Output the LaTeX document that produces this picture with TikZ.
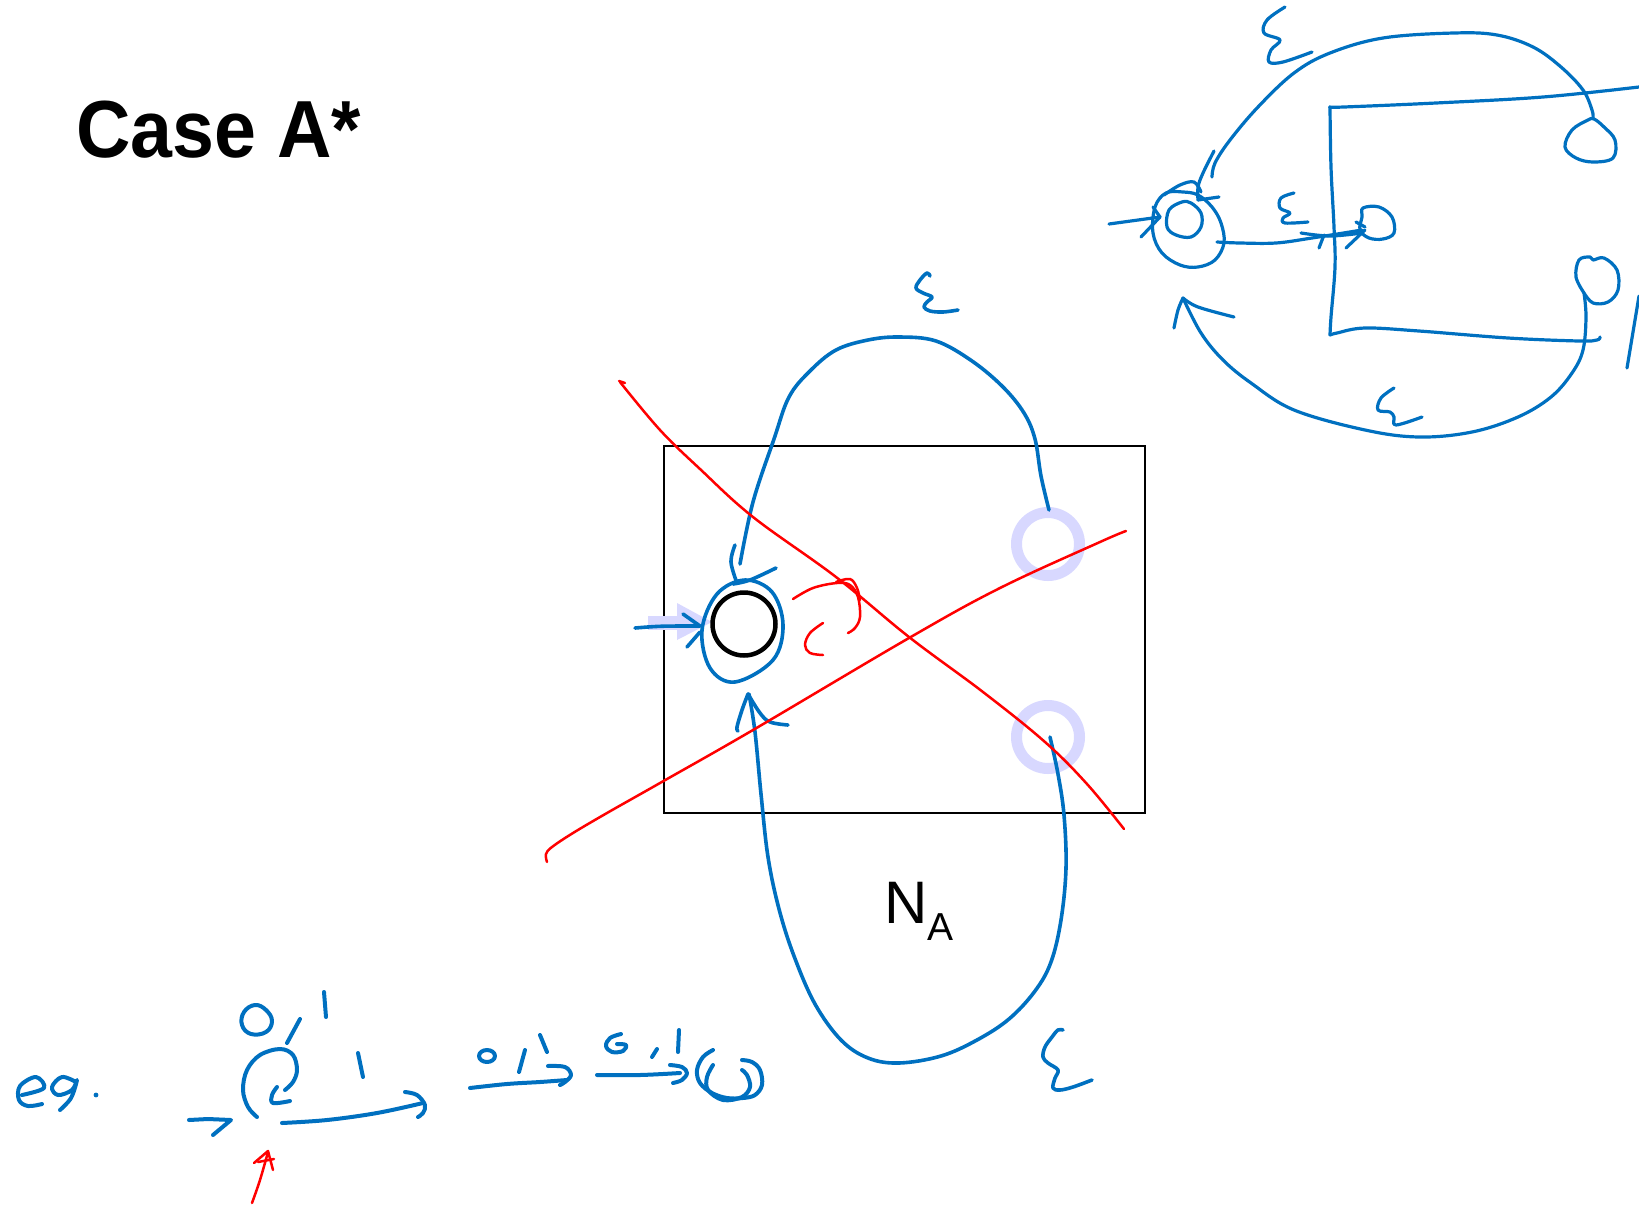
\documentclass[tikz,border=0pt]{standalone}
\usepackage{fontspec}
\setmainfont{Liberation Sans}
\definecolor{ink}{RGB}{0,112,192}
\definecolor{redink}{RGB}{255,0,0}
\definecolor{lav}{RGB}{216,216,255}
\begin{document}
\begin{tikzpicture}[x=1pt,y=-1pt,
  pen/.style={draw=ink, line width=3.6pt, line cap=round, line join=round},
  thinpen/.style={draw=ink, line width=3.2pt, line cap=round, line join=round},
  thickpen/.style={draw=ink, line width=4pt, line cap=round, line join=round},
  redpen/.style={draw=redink, line width=2.5pt, line cap=round, line join=round},
  ring/.style={circle, draw=lav, line width=11pt, minimum size=63pt, inner sep=0pt},
  sm/.style={smooth, tension=0.6}]
\useasboundingbox (0,0) rectangle (1639,1205);

% title
\node[anchor=base west, inner sep=0pt, font=\fontsize{81}{90}\selectfont\bfseries] (title) at (76,157) {\scalebox{0.93}[1]{Case A*}};

% box N_A
\node[draw=black, line width=2.5pt, minimum width=481pt, minimum height=367pt, inner sep=0pt] (box) at (904.5,629.5) {};
\node[anchor=base west, inner sep=0pt, font=\fontsize{60}{70}\selectfont] (nlabel) at (884,923) {N};
\node[anchor=base west, inner sep=0pt, font=\fontsize{39}{45}\selectfont] (alabel) at (nlabel.base east) [yshift=-17pt] {A};

% lavender rings and arrow
\node[ring] (f1) at (1048,544) {};
\node[ring] (f2) at (1048,737) {};
\fill[lav] (648,616) rectangle (678,630);
\fill[lav] (677,603) -- (712,622) -- (677,640) -- cycle;

% start state
\node[circle, draw=black, line width=4.5pt, minimum size=63pt, inner sep=0pt] (s0) at (744,624) {};

% blue ellipse around start
\draw[pen] plot[smooth cycle, tension=0.6] coordinates {(745,580) (772,592) (783,625) (773,660) (735,682) (710,668) (702,630) (717,594)};
% blue entry arrow
\draw[pen] (635,628) .. controls (660,626) .. (700,626);
\draw[pen] (683,614) -- (700,626);
\draw[pen] (687,647) -- (700,632);

% top epsilon loop
\draw[pen] plot[sm] coordinates {(740,564) (753,502) (774,439) (789,397) (810,371) (836,350) (868,340) (899,337) (936,341) (972,361) (1003,387) (1024,413) (1035,439) (1041,476) (1049,510)};
\draw[pen] plot[sm] coordinates {(735,545) (731,562) (737,583)};
\draw[pen] plot[sm] coordinates {(733,584) (750,580) (776,568)};
% bottom epsilon loop
\draw[pen] plot[sm] coordinates {(1050,737) (1058,774) (1064,815) (1066,868) (1061,920) (1051,962) (1035,991) (1009,1019) (977,1040) (941,1056) (899,1063) (868,1058) (841,1040) (815,1004) (794,956) (779,909) (768,857) (761,794) (755,732) (749,694)};
\draw[pen] plot[sm] coordinates {(748,694) (742,710) (737,727) (738,731)};
\draw[pen] plot[sm] coordinates {(748,694) (760,713) (770,722) (788,725)};
% epsilon labels
\draw[pen] plot[sm] coordinates {(930,276) (927,273) (920,280) (916,288) (923,293) (932,297) (927,302) (924,307) (930,311) (943,312) (958,310)};
\draw[pen] plot[sm] coordinates {(1063,1030) (1058,1030) (1052,1037) (1045,1047) (1043,1057) (1048,1063) (1058,1070) (1055,1078) (1053,1088) (1060,1090) (1073,1087) (1092,1080)};

% red strokes
\draw[redpen] (625,383) -- (619,381);
\draw[redpen] plot[sm] coordinates {(620,382) (660,430) (700,469) (753,517) (836,577) (909,637) (983,692) (1045,742) (1087,784) (1124,829)};
\draw[redpen] plot[sm] coordinates {(547,862) (546,854) (552,847) (573,833) (607,813) (660,783) (753,730) (909,638) (1000,588) (1100,542) (1126,531)};
\draw[redpen] plot[sm] coordinates {(793,599) (813,588) (837,583) (850,585) (858,597) (860,617) (855,628) (848,633)};
\draw[redpen] plot[sm] coordinates {(836,582) (850,579) (857,588) (860,600)};
\draw[redpen] plot[sm] coordinates {(823,623) (810,633) (805,645) (810,653) (823,655)};

% ===== top-right sketch =====
\draw[thinpen] plot[sm] coordinates {(1212,177) (1215,163) (1230,140) (1258,107) (1294,73) (1330,53) (1383,38) (1454,33) (1497,35) (1533,47) (1561,67) (1583,90) (1592,110) (1593,118)};
\draw[thinpen] plot[sm] coordinates {(1214,151) (1203,173) (1198,187) (1198,200)};
\draw[thinpen] (1198,200) -- (1219,197);
\draw[thinpen] plot[smooth cycle, tension=0.6] coordinates {(1588,120) (1572,130) (1565,147) (1576,158) (1593,162) (1613,158) (1615,140) (1604,127) (1594,119)};
\draw[thinpen] plot[sm] coordinates {(1584,293) (1576,277) (1579,260) (1590,257) (1593,260) (1604,258) (1617,270) (1618,290) (1608,302) (1593,303) (1584,293)};
\draw[thinpen] plot[sm] coordinates {(1584,293) (1586,317) (1583,350) (1572,373) (1551,397) (1518,417) (1472,432) (1419,437) (1365,430) (1294,410) (1251,383) (1223,360) (1201,333) (1183,298)};
\draw[thinpen] plot[sm] coordinates {(1174,328) (1178,310) (1183,298)};
\draw[thinpen] plot[sm] coordinates {(1183,298) (1198,307) (1234,317)};
% rectangle
\draw[thinpen] plot[sm] coordinates {(1330,107) (1344,107) (1436,103) (1543,97) (1639,87)};
\draw[thinpen] plot[sm] coordinates {(1330,107) (1331,167) (1334,227) (1335,267) (1331,317) (1330,335)};
\draw[thinpen] plot[sm] coordinates {(1330,335) (1337,333) (1365,328) (1419,331) (1508,338) (1579,341) (1597,340) (1600,337)};
% start state
\draw[thinpen] plot[smooth cycle, tension=0.6] coordinates {(1182,202) (1169,210) (1167,227) (1176,235) (1191,237) (1201,227) (1201,213) (1191,203)};
\draw[thinpen] plot[sm] coordinates {(1164,195) (1180,185) (1194,182) (1201,192)};
\draw[thinpen] plot[smooth cycle, tension=0.6] coordinates {(1166,193) (1155,207) (1153,233) (1162,253) (1180,265) (1198,267) (1215,260) (1224,243) (1221,223) (1212,207) (1198,195) (1183,192)};
\draw[thinpen] (1109,224) -- (1160,217);
\draw[thinpen] (1153,207) -- (1160,217);
\draw[thinpen] (1141,237) -- (1160,217);
% epsilon transition
\draw[thinpen] plot[sm] coordinates {(1217,242) (1240,243) (1276,243) (1312,238) (1362,230)};
\draw[thinpen] plot[sm] coordinates {(1301,233) (1330,236) (1362,233)};
\draw[thinpen] (1319,248) -- (1324,235);
\draw[thinpen] (1346,248) -- (1365,230);
\draw[thinpen] (1356,222) -- (1365,227);
\draw[thinpen] plot[smooth cycle, tension=0.6] coordinates {(1363,208) (1379,207) (1392,217) (1394,233) (1383,239) (1369,238) (1360,230) (1362,217)};
% epsilon labels
\draw[thinpen] plot[sm] coordinates {(1285,7) (1267,20) (1264,33) (1280,40) (1271,50) (1269,62) (1283,62) (1312,52)};
\draw[thinpen] plot[sm] coordinates {(1294,193) (1281,198) (1280,208) (1290,213) (1283,218) (1285,223) (1308,222)};
\draw[thinpen] plot[sm] coordinates {(1394,388) (1381,398) (1378,410) (1390,412) (1394,417) (1396,425) (1422,417)};
\draw[thinpen] (1639,296) -- (1627,368);

% ===== bottom-left example =====
\draw[thickpen] plot[sm] coordinates {(22,1095) (44,1088) (36,1077) (20,1086) (19,1100) (28,1106) (42,1104)};
\draw[thickpen] plot[sm] coordinates {(76,1082) (62,1077) (52,1087) (58,1095) (72,1090) (77,1080) (71,1098) (60,1110)};
\fill[ink] (96,1095) circle (2.4pt);
\draw[thickpen] (189,1120) -- (208,1119) -- (231,1120) -- (213,1135);
\draw[thickpen] plot[sm] coordinates {(257,1117) (248,1107) (243,1090) (247,1070) (260,1055) (280,1049) (293,1055) (297,1070) (293,1082) (285,1090)};
\draw[thickpen] plot[sm] coordinates {(277,1087) (272,1095) (273,1103) (290,1101)};
\draw[thickpen] plot[smooth cycle, tension=0.7] coordinates {(266,1010) (255,1005) (244,1012) (242,1025) (251,1034) (266,1032) (272,1021)};
\draw[thickpen] (300,1019) -- (287,1043);
\draw[thickpen] (324,992) -- (326,1017);
\draw[thickpen] plot[sm] coordinates {(282,1123) (327,1120) (377,1113) (423,1103)};
\draw[thickpen] plot[sm] coordinates {(405,1092) (417,1095) (425,1105) (423,1113) (418,1117)};
\draw[thickpen] (358,1053) -- (363,1077);
% second group
\draw[thickpen] (487,1056) ellipse (8pt and 6pt);
\draw[thickpen] (525,1050) -- (519,1072);
\draw[thickpen] (540,1035) -- (547,1052);
\draw[thickpen] plot[sm] coordinates {(470,1088) (507,1084) (540,1082) (567,1080)};
\draw[thickpen] plot[sm] coordinates {(548,1066) (565,1067) (571,1075) (565,1082) (560,1085)};
% third group
\draw[thickpen] plot[sm] coordinates {(621,1034) (610,1038) (606,1046) (612,1052) (623,1051) (626,1045) (617,1044)};
\draw[thickpen] (657,1049) -- (652,1057);
\draw[thickpen] (679,1030) -- (678,1052);
\draw[thickpen] plot[sm] coordinates {(597,1075) (640,1075) (680,1073)};
\draw[thickpen] plot[sm] coordinates {(670,1065) (682,1067) (687,1073) (682,1080) (673,1083)};
% final state
\draw[thickpen] plot[sm] coordinates {(713,1050) (703,1057) (697,1070) (700,1083) (712,1093) (727,1098) (743,1098) (755,1095) (762,1085) (760,1070) (752,1062) (742,1060)};
\draw[thickpen] plot[sm] coordinates {(713,1065) (707,1077) (708,1090) (723,1100) (742,1097) (750,1087) (747,1075) (742,1070)};
% red pointer
\draw[redpen] plot[sm] coordinates {(252,1203) (260,1180) (268,1152)};
\draw[redpen] (254,1163) -- (268,1151) -- (273,1170);
\draw[redpen] (258,1162) -- (274,1159);
\end{tikzpicture}
\end{document}
